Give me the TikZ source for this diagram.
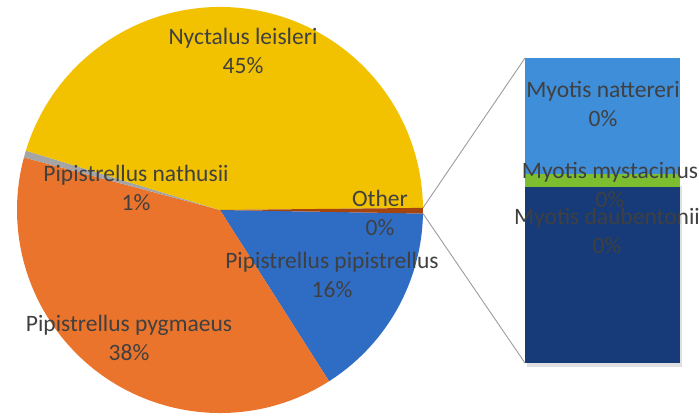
\documentclass[tikz,border=0pt]{standalone}
\usepackage{fontspec}
\setmainfont{Carlito}
\usepackage{tikz}
\definecolor{cYellow}{HTML}{F2C200}
\definecolor{cOrange}{HTML}{EA742C}
\definecolor{cBlue}{HTML}{2F6CC4}
\definecolor{cGray}{HTML}{A5A5A5}
\definecolor{cOther}{HTML}{A4440E}
\definecolor{cLightBlue}{HTML}{3E8EDA}
\definecolor{cGreen}{HTML}{7DBD30}
\definecolor{cNavy}{HTML}{163B78}
\definecolor{cText}{HTML}{404040}
\definecolor{cLine}{HTML}{9C9C9C}

\begin{document}
\begin{tikzpicture}[x=1pt,y=1pt,
  lbl/.style={text=cText,align=center,font=\fontsize{23.5}{29}\selectfont}]
\def\r{203}
\useasboundingbox (-220,-208) rectangle (479,210);
\coordinate (O) at (0,0);
\fill[cBlue] (O) -- (-1:\r) arc[start angle=-1, end angle=-57.5, radius=\r] -- cycle;
\fill[cOrange] (O) -- (-57.5:\r) arc[start angle=-57.5, end angle=-195, radius=\r] -- cycle;
\fill[cGray] (O) -- (165:\r) arc[start angle=165, end angle=163, radius=\r] -- cycle;
\fill[cYellow] (O) -- (163:\r) arc[start angle=163, end angle=0.6, radius=\r] -- cycle;
\fill[cOther] (O) -- (0.6:\r) arc[start angle=0.6, end angle=-1, radius=\r] -- cycle;
\coordinate (otherTop) at (0.6:\r);
\coordinate (otherBot) at (-1:\r);
\coordinate (barTL) at (305,152);
\coordinate (barBL) at (305,-153);
\fill[black!12] (307,-157) rectangle (462,24);
\fill[cLightBlue] (barTL) rectangle (460,36);
\fill[cGreen] (305,36) rectangle (460,23);
\fill[cNavy] (305,23) rectangle (460,-153);
\draw[cLine, line width=0.9pt] (otherTop) -- (barTL);
\draw[cLine, line width=0.9pt] (otherBot) -- (barBL);
\node[lbl] (leisleri) at (23,159) {Nyctalus leisleri\\45\%};
\node[lbl] (nathusii) at (-84,22.5) {Pipistrellus nathusii\\1\%};
\node[lbl] (other) at (160,-3) {Other\\0\%};
\node[lbl] (pipistrellus) at (112,-65) {Pipistrellus pipistrellus\\16\%};
\node[lbl] (pygmaeus) at (-91,-127.5) {Pipistrellus pygmaeus\\38\%};
\node[lbl] (nattereri) at (383,106) {Myotis nattereri\\0\%};
\node[lbl] (mystacinus) at (390,25) {Myotis mystacinus\\0\%};
\node[lbl] (daubentonii) at (387,-20.5) {Myotis daubentonii\\0\%};
\end{tikzpicture}
\end{document}
